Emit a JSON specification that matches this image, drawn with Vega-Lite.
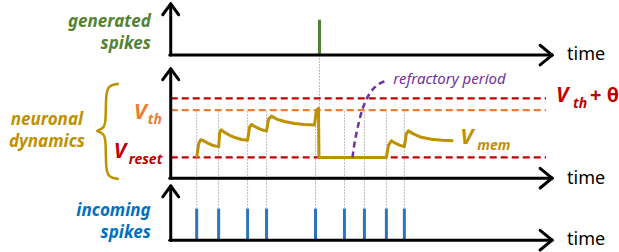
{
  "$schema": "https://vega.github.io/schema/vega-lite/v6.json",
  "autosize": {"type": "fit", "contains": "padding"},
  "width": 619,
  "height": 252,
  "padding": 0,
  "background": "white",
  "config": {"view": {"stroke": null}},
  "datasets": {
    "dotted": [
      {"x": 197, "y": 113, "x2": 197, "y2": 212},
      {"x": 219, "y": 113, "x2": 219, "y2": 212},
      {"x": 248, "y": 113, "x2": 248, "y2": 212},
      {"x": 267, "y": 113, "x2": 267, "y2": 212},
      {"x": 316, "y": 113, "x2": 316, "y2": 212},
      {"x": 320, "y": 56, "x2": 320, "y2": 160},
      {"x": 345, "y": 113, "x2": 345, "y2": 212},
      {"x": 365, "y": 113, "x2": 365, "y2": 212},
      {"x": 387, "y": 113, "x2": 387, "y2": 212},
      {"x": 405, "y": 113, "x2": 405, "y2": 212}
    ],
    "axes": [
      {"x": 171, "y": 4, "x2": 171, "y2": 56},
      {"x": 170, "y": 56, "x2": 553, "y2": 56},
      {"x": 171, "y": 70, "x2": 171, "y2": 181},
      {"x": 170, "y": 181, "x2": 553, "y2": 181},
      {"x": 171, "y": 189, "x2": 171, "y2": 244},
      {"x": 170, "y": 244, "x2": 553, "y2": 244},
      {"x": 163, "y": 15, "x2": 171, "y2": 4},
      {"x": 179, "y": 15, "x2": 171, "y2": 4},
      {"x": 163, "y": 81, "x2": 171, "y2": 70},
      {"x": 179, "y": 81, "x2": 171, "y2": 70},
      {"x": 163, "y": 200, "x2": 171, "y2": 189},
      {"x": 179, "y": 200, "x2": 171, "y2": 189},
      {"x": 541, "y": 46, "x2": 553, "y2": 56},
      {"x": 541, "y": 66, "x2": 553, "y2": 56},
      {"x": 541, "y": 171, "x2": 553, "y2": 181},
      {"x": 541, "y": 191, "x2": 553, "y2": 181},
      {"x": 541, "y": 234, "x2": 553, "y2": 244},
      {"x": 541, "y": 254, "x2": 553, "y2": 244}
    ],
    "incoming": [
      {"x": 197, "y": 212, "x2": 197, "y2": 244},
      {"x": 219, "y": 212, "x2": 219, "y2": 244},
      {"x": 248, "y": 212, "x2": 248, "y2": 244},
      {"x": 267, "y": 212, "x2": 267, "y2": 244},
      {"x": 316, "y": 212, "x2": 316, "y2": 244},
      {"x": 345, "y": 212, "x2": 345, "y2": 244},
      {"x": 365, "y": 212, "x2": 365, "y2": 244},
      {"x": 387, "y": 212, "x2": 387, "y2": 244},
      {"x": 405, "y": 212, "x2": 405, "y2": 244}
    ],
    "generated": [{"x": 320, "y": 20, "x2": 320, "y2": 56}],
    "redDash": [
      {"x": 171, "y": 100, "x2": 547, "y2": 100},
      {"x": 171, "y": 160, "x2": 547, "y2": 160}
    ],
    "orangeDash": [{"x": 171, "y": 112, "x2": 547, "y2": 112}],
    "vmem": [
      {"i": 1, "x": 197, "y": 160}, {"i": 2, "x": 199, "y": 146}, {"i": 3, "x": 201, "y": 142},
      {"i": 4, "x": 204, "y": 143}, {"i": 5, "x": 208, "y": 145.5}, {"i": 6, "x": 212, "y": 147.3},
      {"i": 7, "x": 216, "y": 148.5}, {"i": 8, "x": 219, "y": 149},
      {"i": 9, "x": 220, "y": 135}, {"i": 10, "x": 221.5, "y": 132}, {"i": 11, "x": 225, "y": 134.5},
      {"i": 12, "x": 230, "y": 137.5}, {"i": 13, "x": 236, "y": 140}, {"i": 14, "x": 242, "y": 141.7},
      {"i": 15, "x": 248, "y": 142.5},
      {"i": 16, "x": 250, "y": 129}, {"i": 17, "x": 252, "y": 126.5}, {"i": 18, "x": 256, "y": 129},
      {"i": 19, "x": 260, "y": 131}, {"i": 20, "x": 264, "y": 132.5}, {"i": 21, "x": 267, "y": 133},
      {"i": 22, "x": 269, "y": 121}, {"i": 23, "x": 272, "y": 118}, {"i": 24, "x": 277, "y": 121},
      {"i": 25, "x": 285, "y": 123.5}, {"i": 26, "x": 295, "y": 125.5}, {"i": 27, "x": 305, "y": 126.5},
      {"i": 28, "x": 315, "y": 127},
      {"i": 29, "x": 317, "y": 112}, {"i": 30, "x": 319, "y": 110}, {"i": 31, "x": 319.5, "y": 160},
      {"i": 32, "x": 387, "y": 160},
      {"i": 33, "x": 389, "y": 148}, {"i": 34, "x": 392, "y": 143}, {"i": 35, "x": 396, "y": 145.5},
      {"i": 36, "x": 400, "y": 147.5}, {"i": 37, "x": 405, "y": 149},
      {"i": 38, "x": 407, "y": 136}, {"i": 39, "x": 409, "y": 133}, {"i": 40, "x": 414, "y": 136},
      {"i": 41, "x": 422, "y": 139.5}, {"i": 42, "x": 432, "y": 141.5}, {"i": 43, "x": 443, "y": 142.5},
      {"i": 44, "x": 454, "y": 143}
    ],
    "refractory": [
      {"i": 1, "x": 353, "y": 160}, {"i": 2, "x": 355, "y": 146}, {"i": 3, "x": 357.5, "y": 133},
      {"i": 4, "x": 360, "y": 122}, {"i": 5, "x": 363, "y": 111}, {"i": 6, "x": 366.5, "y": 102},
      {"i": 7, "x": 371, "y": 94}, {"i": 8, "x": 376, "y": 88}, {"i": 9, "x": 382, "y": 84},
      {"i": 10, "x": 388, "y": 82}
    ],
    "brace": [
      {"i": 1, "x": 119, "y": 85}, {"i": 2, "x": 108, "y": 87}, {"i": 3, "x": 106, "y": 97},
      {"i": 4, "x": 106, "y": 124}, {"i": 5, "x": 104, "y": 131}, {"i": 6, "x": 94, "y": 133},
      {"i": 7, "x": 104, "y": 135}, {"i": 8, "x": 106, "y": 142}, {"i": 9, "x": 106, "y": 170},
      {"i": 10, "x": 108, "y": 180}, {"i": 11, "x": 119, "y": 182}
    ],
    "greenLabels": [
      {"t": "generated", "x": 151, "y": 27},
      {"t": "spikes", "x": 151, "y": 50}
    ],
    "blueLabels": [
      {"t": "incoming", "x": 151, "y": 219},
      {"t": "spikes", "x": 151, "y": 242}
    ],
    "goldLabels": [
      {"t": "neuronal", "x": 47, "y": 127},
      {"t": "dynamics", "x": 47, "y": 149}
    ],
    "timeLabels": [
      {"t": "time", "x": 568, "y": 61},
      {"t": "time", "x": 568, "y": 187},
      {"t": "time", "x": 568, "y": 249}
    ],
    "orangeBig": [{"t": "V", "x": 134, "y": 121}],
    "orangeSmall": [{"t": "th", "x": 148, "y": 126}],
    "redBig": [
      {"t": "V", "x": 114, "y": 161},
      {"t": "V", "x": 557, "y": 104}
    ],
    "redUpright": [{"t": "+ θ", "x": 591, "y": 104}],
    "redSmall": [
      {"t": "reset", "x": 129, "y": 167},
      {"t": "th", "x": 574, "y": 110}
    ],
    "goldBig": [{"t": "V", "x": 461, "y": 146}],
    "goldSmall": [{"t": "mem", "x": 478, "y": 152}],
    "purpleLabel": [{"t": "refractory period", "x": 394, "y": 85}]
  },
  "encoding": {
    "x": {"field": "x", "type": "quantitative", "scale": {"domain": [0, 619], "nice": false, "zero": false}, "axis": null},
    "y": {"field": "y", "type": "quantitative", "scale": {"domain": [0, 252], "nice": false, "zero": false, "reverse": true}, "axis": null}
  },
  "layer": [
    {"data": {"name": "dotted"}, "mark": {"type": "rule", "color": "#a6a6a6", "strokeWidth": 1, "strokeDash": [1.5, 1.5]},
     "encoding": {"x2": {"field": "x2"}, "y2": {"field": "y2"}}},
    {"data": {"name": "redDash"}, "mark": {"type": "rule", "color": "#c00000", "strokeWidth": 2.2, "strokeDash": [7, 4]},
     "encoding": {"x2": {"field": "x2"}, "y2": {"field": "y2"}}},
    {"data": {"name": "orangeDash"}, "mark": {"type": "rule", "color": "#ed7d31", "strokeWidth": 2.2, "strokeDash": [7, 4]},
     "encoding": {"x2": {"field": "x2"}, "y2": {"field": "y2"}}},
    {"data": {"name": "incoming"}, "mark": {"type": "rule", "color": "#2e75b6", "strokeWidth": 3},
     "encoding": {"x2": {"field": "x2"}, "y2": {"field": "y2"}}},
    {"data": {"name": "generated"}, "mark": {"type": "rule", "color": "#548235", "strokeWidth": 3},
     "encoding": {"x2": {"field": "x2"}, "y2": {"field": "y2"}}},
    {"data": {"name": "vmem"}, "mark": {"type": "line", "color": "#bf9000", "strokeWidth": 3, "strokeJoin": "round"},
     "encoding": {"order": {"field": "i", "type": "quantitative"}}},
    {"data": {"name": "refractory"}, "mark": {"type": "line", "color": "#7030a0", "strokeWidth": 2.5, "strokeDash": [6, 4], "interpolate": "monotone"},
     "encoding": {"order": {"field": "i", "type": "quantitative"}}},
    {"data": {"name": "brace"}, "mark": {"type": "line", "color": "#bf9000", "strokeWidth": 2.5, "interpolate": "basis"},
     "encoding": {"order": {"field": "i", "type": "quantitative"}}},
    {"data": {"name": "axes"}, "mark": {"type": "rule", "color": "#000000", "strokeWidth": 3, "strokeCap": "round"},
     "encoding": {"x2": {"field": "x2"}, "y2": {"field": "y2"}}},
    {"data": {"name": "greenLabels"}, "mark": {"type": "text", "align": "right", "baseline": "alphabetic", "font": "Noto Sans", "fontSize": 17, "fontStyle": "italic", "fontWeight": "bold", "color": "#548235"},
     "encoding": {"text": {"field": "t"}}},
    {"data": {"name": "blueLabels"}, "mark": {"type": "text", "align": "right", "baseline": "alphabetic", "font": "Noto Sans", "fontSize": 17, "fontStyle": "italic", "fontWeight": "bold", "color": "#0070c0"},
     "encoding": {"text": {"field": "t"}}},
    {"data": {"name": "goldLabels"}, "mark": {"type": "text", "align": "center", "baseline": "alphabetic", "font": "Noto Sans", "fontSize": 17, "fontStyle": "italic", "fontWeight": "bold", "color": "#bf9000"},
     "encoding": {"text": {"field": "t"}}},
    {"data": {"name": "timeLabels"}, "mark": {"type": "text", "align": "left", "baseline": "alphabetic", "font": "Noto Sans", "fontSize": 18, "color": "#000000"},
     "encoding": {"text": {"field": "t"}}},
    {"data": {"name": "orangeBig"}, "mark": {"type": "text", "align": "left", "baseline": "alphabetic", "font": "Noto Sans", "fontSize": 22, "fontStyle": "italic", "fontWeight": "bold", "color": "#ed7d31"},
     "encoding": {"text": {"field": "t"}}},
    {"data": {"name": "orangeSmall"}, "mark": {"type": "text", "align": "left", "baseline": "alphabetic", "font": "Noto Sans", "fontSize": 14, "fontStyle": "italic", "fontWeight": "bold", "color": "#ed7d31"},
     "encoding": {"text": {"field": "t"}}},
    {"data": {"name": "redBig"}, "mark": {"type": "text", "align": "left", "baseline": "alphabetic", "font": "Noto Sans", "fontSize": 21, "fontStyle": "italic", "fontWeight": "bold", "color": "#c00000"},
     "encoding": {"text": {"field": "t"}}},
    {"data": {"name": "redUpright"}, "mark": {"type": "text", "align": "left", "baseline": "alphabetic", "font": "Noto Sans", "fontSize": 20, "fontWeight": "bold", "color": "#c00000"},
     "encoding": {"text": {"field": "t"}}},
    {"data": {"name": "redSmall"}, "mark": {"type": "text", "align": "left", "baseline": "alphabetic", "font": "Noto Sans", "fontSize": 14, "fontStyle": "italic", "fontWeight": "bold", "color": "#c00000"},
     "encoding": {"text": {"field": "t"}}},
    {"data": {"name": "goldBig"}, "mark": {"type": "text", "align": "left", "baseline": "alphabetic", "font": "Noto Sans", "fontSize": 22, "fontStyle": "italic", "fontWeight": "bold", "color": "#bf9000"},
     "encoding": {"text": {"field": "t"}}},
    {"data": {"name": "goldSmall"}, "mark": {"type": "text", "align": "left", "baseline": "alphabetic", "font": "Noto Sans", "fontSize": 14, "fontStyle": "italic", "fontWeight": "bold", "color": "#bf9000"},
     "encoding": {"text": {"field": "t"}}},
    {"data": {"name": "purpleLabel"}, "mark": {"type": "text", "align": "left", "baseline": "alphabetic", "font": "Noto Sans", "fontSize": 15, "fontStyle": "italic", "color": "#7030a0"},
     "encoding": {"text": {"field": "t"}}}
  ]
}
